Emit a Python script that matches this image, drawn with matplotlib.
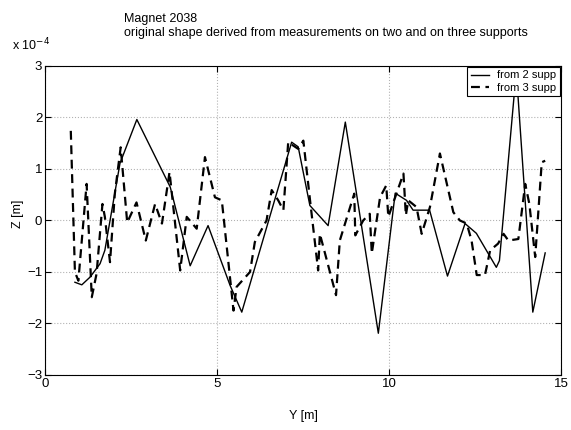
"""
Magnet 2038: original shape derived from measurements on two and on three supports.
"""

import matplotlib
matplotlib.use('Agg')
import matplotlib.pyplot as plt

plt.rcParams['font.family'] = ['Liberation Sans', 'DejaVu Sans']

# Z values are in units of 1e-4 m
y_2supp = [0.87, 1.07, 1.31, 1.60, 1.74, 2.18, 2.67, 3.64, 4.22, 4.74, 5.38, 5.72,
           7.17, 7.36, 7.70, 8.23, 8.73, 9.69, 10.18, 10.51, 10.70, 11.18, 11.70,
           12.21, 12.54, 12.83, 13.12, 13.21, 13.70, 14.18, 14.54]
z_2supp = [-1.20, -1.25, -1.10, -0.84, -0.58, 1.11, 1.96, 0.65, -0.88, -0.10, -1.26, -1.78,
           1.52, 1.43, 0.29, -0.10, 1.91, -2.19, 0.53, 0.39, 0.20, 0.20, -1.08,
           -0.06, -0.25, -0.58, -0.91, -0.78, 2.90, -1.78, -0.63]

y_3supp = [0.75, 0.87, 0.97, 1.21, 1.36, 1.50, 1.67, 1.74, 1.89, 2.03, 2.20, 2.39,
           2.66, 2.93, 3.20, 3.40, 3.62, 3.93, 4.12, 4.41, 4.65, 4.94, 5.14, 5.48,
           5.57, 5.96, 6.10, 6.44, 6.59, 6.78, 6.93, 7.07, 7.36, 7.51, 7.70, 7.94,
           7.99, 8.46, 8.57, 8.99, 9.02, 9.25, 9.44, 9.50, 9.74, 9.92, 9.98, 10.42,
           10.49, 10.56, 10.80, 10.95, 11.19, 11.48, 11.87, 12.06, 12.26, 12.40,
           12.55, 12.79, 12.94, 13.17, 13.33, 13.47, 13.76, 13.96, 14.08, 14.25,
           14.44, 14.54]
z_3supp = [1.74, -1.00, -1.17, 0.71, -1.49, -1.03, 0.32, 0.07, -0.81, 0.52, 1.42, -0.04,
           0.35, -0.39, 0.32, -0.06, 0.94, -0.97, 0.07, -0.16, 1.23, 0.45, 0.39, -1.75,
           -1.29, -1.00, -0.42, 0.00, 0.59, 0.39, 0.20, 1.52, 1.39, 1.55, 0.42, -0.97,
           -0.26, -1.45, -0.39, 0.52, -0.29, 0.00, 0.13, -0.64, 0.45, 0.68, 0.07, 0.91,
           0.10, 0.39, 0.26, -0.26, 0.26, 1.30, 0.16, 0.00, -0.06, -0.39,
           -1.06, -1.06, -0.58, -0.45, -0.26, -0.39, -0.36, 0.71, 0.32, -0.71,
           1.13, 1.16]

x_ticks = [0, 5, 10, 15]
y_ticks = [-3, -2, -1, 0, 1, 2, 3]

fig = plt.figure(figsize=(5.71, 4.30), dpi=100)
ax = fig.add_axes([0.0788, 0.128, 0.9037, 0.7186])

ax.plot(y_2supp, z_2supp, color='black', linewidth=1.0, linestyle='-', label='from 2 supp')
ax.plot(y_3supp, z_3supp, color='black', linewidth=1.6, linestyle=(0, (4, 2.5)), label='from 3 supp')

ax.set_xlim(0, 15)
ax.set_ylim(-3, 3)
ax.set_xticks(x_ticks)
ax.set_yticks(y_ticks)
ax.tick_params(direction='in', top=True, right=True, labelsize=9.5, length=4, pad=2)
ax.grid(True, linestyle=':', color='grey', linewidth=0.8, alpha=0.6)

ax.set_xlabel('Y [m]', fontsize=9)
ax.set_ylabel('Z [m]', fontsize=9)
ax.xaxis.set_label_coords(0.5, -0.115)
ax.yaxis.set_label_coords(-0.04, 0.52)

# Scale factor and title (MATLAB style)
fig.text(0.021, 0.895, r'x 10$^{-4}$', fontsize=9, ha='left', va='center')
fig.text(0.217, 0.94, 'Magnet 2038\noriginal shape derived from measurements on two and on three supports',
         fontsize=9, ha='left', va='center', linespacing=1.25)

leg = ax.legend(loc='upper right', fontsize=8, frameon=True, fancybox=False,
                handlelength=1.6, borderaxespad=0.1, borderpad=0.3, labelspacing=0.2)
leg.get_frame().set_edgecolor('black')
leg.get_frame().set_linewidth(0.8)
leg.get_frame().set_alpha(1.0)

fig.savefig('out.png', dpi=100)
